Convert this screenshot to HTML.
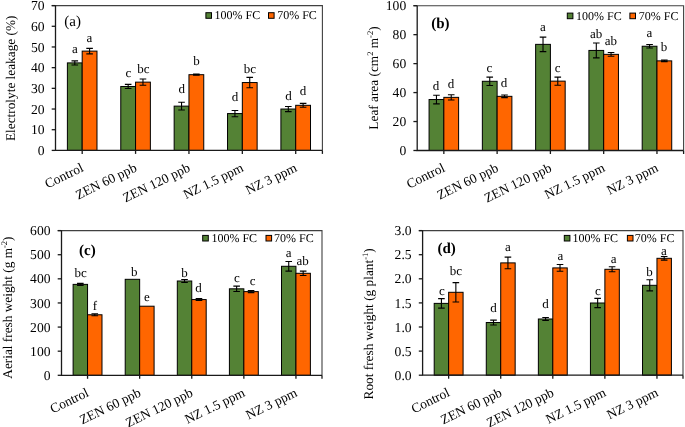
<!DOCTYPE html>
<html><head><meta charset="utf-8"><style>
html,body{margin:0;padding:0;background:#fff;}
svg{display:block;will-change:transform;}
.t,.leg{text-rendering:geometricPrecision;}
.t{font-family:"Liberation Serif",serif;font-size:13px;fill:#000;}
.leg{font-family:"Liberation Serif",serif;font-size:12px;fill:#000;}
</style></head><body>
<svg width="685" height="427" viewBox="0 0 685 427">

<rect x="67.39" y="62.90" width="14.80" height="87.50" fill="#548235" stroke="#000" stroke-width="1"/>
<rect x="82.19" y="51.11" width="14.80" height="99.29" fill="#FF6600" stroke="#000" stroke-width="1"/>
<path d="M74.79 60.83V64.97M71.49 60.83h6.6M71.49 64.97h6.6" stroke="#000" stroke-width="1.1" fill="none"/>
<path d="M89.59 48.36V53.86M86.29 48.36h6.6M86.29 53.86h6.6" stroke="#000" stroke-width="1.1" fill="none"/>
<rect x="120.77" y="86.48" width="14.80" height="63.92" fill="#548235" stroke="#000" stroke-width="1"/>
<rect x="135.57" y="82.14" width="14.80" height="68.26" fill="#FF6600" stroke="#000" stroke-width="1"/>
<path d="M128.17 84.41V88.55M124.87 84.41h6.6M124.87 88.55h6.6" stroke="#000" stroke-width="1.1" fill="none"/>
<path d="M142.97 79.03V85.24M139.67 79.03h6.6M139.67 85.24h6.6" stroke="#000" stroke-width="1.1" fill="none"/>
<rect x="174.15" y="106.13" width="14.80" height="44.27" fill="#548235" stroke="#000" stroke-width="1"/>
<rect x="188.95" y="74.69" width="14.80" height="75.71" fill="#FF6600" stroke="#000" stroke-width="1"/>
<path d="M181.55 102.20V110.06M178.25 102.20h6.6M178.25 110.06h6.6" stroke="#000" stroke-width="1.1" fill="none"/>
<path d="M196.35 74.17V75.21M193.05 74.17h6.6M193.05 75.21h6.6" stroke="#000" stroke-width="1.1" fill="none"/>
<rect x="227.53" y="113.58" width="14.80" height="36.82" fill="#548235" stroke="#000" stroke-width="1"/>
<rect x="242.33" y="82.55" width="14.80" height="67.85" fill="#FF6600" stroke="#000" stroke-width="1"/>
<path d="M234.93 110.48V116.68M231.63 110.48h6.6M231.63 116.68h6.6" stroke="#000" stroke-width="1.1" fill="none"/>
<path d="M249.73 77.38V87.72M246.43 77.38h6.6M246.43 87.72h6.6" stroke="#000" stroke-width="1.1" fill="none"/>
<rect x="280.91" y="109.03" width="14.80" height="41.37" fill="#548235" stroke="#000" stroke-width="1"/>
<rect x="295.71" y="105.31" width="14.80" height="45.09" fill="#FF6600" stroke="#000" stroke-width="1"/>
<path d="M288.31 106.44V111.61M285.01 106.44h6.6M285.01 111.61h6.6" stroke="#000" stroke-width="1.1" fill="none"/>
<path d="M303.11 103.34V107.27M299.81 103.34h6.6M299.81 107.27h6.6" stroke="#000" stroke-width="1.1" fill="none"/>
<path d="M51.70 5.60H322.40V150.40" stroke="#404040" stroke-width="1.1" fill="none"/>
<path d="M55.50 5.60V150.40H322.40" stroke="#1a1a1a" stroke-width="1.3" fill="none"/>
<path d="M51.70 150.40H55.50" stroke="#1a1a1a" stroke-width="1.3"/>
<text x="44.50" y="155.00" text-anchor="end" class="t" style="font-size:13.6px">0</text>
<path d="M51.70 129.71H55.50" stroke="#1a1a1a" stroke-width="1.3"/>
<text x="44.50" y="134.31" text-anchor="end" class="t" style="font-size:13.6px">10</text>
<path d="M51.70 109.03H55.50" stroke="#1a1a1a" stroke-width="1.3"/>
<text x="44.50" y="113.63" text-anchor="end" class="t" style="font-size:13.6px">20</text>
<path d="M51.70 88.34H55.50" stroke="#1a1a1a" stroke-width="1.3"/>
<text x="44.50" y="92.94" text-anchor="end" class="t" style="font-size:13.6px">30</text>
<path d="M51.70 67.66H55.50" stroke="#1a1a1a" stroke-width="1.3"/>
<text x="44.50" y="72.26" text-anchor="end" class="t" style="font-size:13.6px">40</text>
<path d="M51.70 46.97H55.50" stroke="#1a1a1a" stroke-width="1.3"/>
<text x="44.50" y="51.57" text-anchor="end" class="t" style="font-size:13.6px">50</text>
<path d="M51.70 26.29H55.50" stroke="#1a1a1a" stroke-width="1.3"/>
<text x="44.50" y="30.89" text-anchor="end" class="t" style="font-size:13.6px">60</text>
<path d="M51.70 5.60H55.50" stroke="#1a1a1a" stroke-width="1.3"/>
<text x="44.50" y="10.20" text-anchor="end" class="t" style="font-size:13.6px">70</text>
<path d="M322.40 150.40V153.90" stroke="#1a1a1a" stroke-width="1.3"/>
<path d="M82.19 150.40V153.90" stroke="#1a1a1a" stroke-width="1.3"/>
<text x="82.39" y="171.10" text-anchor="end" class="t" style="font-size:13.4px" transform="rotate(-26 82.39 166.80)">Control</text>
<path d="M135.57 150.40V153.90" stroke="#1a1a1a" stroke-width="1.3"/>
<text x="135.77" y="171.10" text-anchor="end" class="t" style="font-size:13.4px" transform="rotate(-26 135.77 166.80)">ZEN 60 ppb</text>
<path d="M188.95 150.40V153.90" stroke="#1a1a1a" stroke-width="1.3"/>
<text x="189.15" y="171.10" text-anchor="end" class="t" style="font-size:13.4px" transform="rotate(-26 189.15 166.80)">ZEN 120 ppb</text>
<path d="M242.33 150.40V153.90" stroke="#1a1a1a" stroke-width="1.3"/>
<text x="242.53" y="171.10" text-anchor="end" class="t" style="font-size:13.4px" transform="rotate(-26 242.53 166.80)">NZ 1.5 ppm</text>
<path d="M295.71 150.40V153.90" stroke="#1a1a1a" stroke-width="1.3"/>
<text x="295.91" y="171.10" text-anchor="end" class="t" style="font-size:13.4px" transform="rotate(-26 295.91 166.80)">NZ 3 ppm</text>
<text x="74.90" y="53.30" text-anchor="middle" class="t">a</text>
<text x="128.30" y="76.80" text-anchor="middle" class="t">c</text>
<text x="181.80" y="93.30" text-anchor="middle" class="t">d</text>
<text x="235.00" y="101.30" text-anchor="middle" class="t">d</text>
<text x="288.60" y="99.60" text-anchor="middle" class="t">d</text>
<text x="89.50" y="41.60" text-anchor="middle" class="t">a</text>
<text x="143.30" y="73.20" text-anchor="middle" class="t">bc</text>
<text x="196.40" y="65.00" text-anchor="middle" class="t">b</text>
<text x="249.90" y="72.70" text-anchor="middle" class="t">bc</text>
<text x="302.90" y="95.10" text-anchor="middle" class="t">d</text>
<text x="15.40" y="78.30" text-anchor="middle" class="t" style="font-size:13.3px" transform="rotate(-90 15.40 78.30)">Electrolyte leakage (%)</text>
<text x="64.30" y="26.00" class="t" style="font-size:15px">(a)</text>
<rect x="205.90" y="12.70" width="5.60" height="5.60" fill="#548235" stroke="#000" stroke-width="1"/>
<rect x="268.50" y="12.70" width="5.60" height="5.60" fill="#FF6600" stroke="#000" stroke-width="1"/>
<text x="214.60" y="19.20" class="leg">100% FC</text>
<text x="277.20" y="19.20" class="leg">70% FC</text>
<rect x="429.07" y="99.53" width="14.77" height="50.97" fill="#548235" stroke="#000" stroke-width="1"/>
<rect x="443.84" y="97.36" width="14.77" height="53.14" fill="#FF6600" stroke="#000" stroke-width="1"/>
<path d="M436.46 95.19V103.87M433.16 95.19h6.6M433.16 103.87h6.6" stroke="#000" stroke-width="1.1" fill="none"/>
<path d="M451.22 94.68V100.04M447.92 94.68h6.6M447.92 100.04h6.6" stroke="#000" stroke-width="1.1" fill="none"/>
<rect x="482.35" y="81.29" width="14.77" height="69.21" fill="#548235" stroke="#000" stroke-width="1"/>
<rect x="497.12" y="96.34" width="14.77" height="54.16" fill="#FF6600" stroke="#000" stroke-width="1"/>
<path d="M489.74 77.09V85.48M486.44 77.09h6.6M486.44 85.48h6.6" stroke="#000" stroke-width="1.1" fill="none"/>
<path d="M504.50 95.04V97.65M501.20 95.04h6.6M501.20 97.65h6.6" stroke="#000" stroke-width="1.1" fill="none"/>
<rect x="535.63" y="44.36" width="14.77" height="106.14" fill="#548235" stroke="#000" stroke-width="1"/>
<rect x="550.40" y="81.14" width="14.77" height="69.36" fill="#FF6600" stroke="#000" stroke-width="1"/>
<path d="M543.02 37.12V51.60M539.72 37.12h6.6M539.72 51.60h6.6" stroke="#000" stroke-width="1.1" fill="none"/>
<path d="M557.78 77.09V85.20M554.48 77.09h6.6M554.48 85.20h6.6" stroke="#000" stroke-width="1.1" fill="none"/>
<rect x="588.91" y="50.44" width="14.77" height="100.06" fill="#548235" stroke="#000" stroke-width="1"/>
<rect x="603.68" y="54.35" width="14.77" height="96.15" fill="#FF6600" stroke="#000" stroke-width="1"/>
<path d="M596.30 43.06V57.83M593.00 43.06h6.6M593.00 57.83h6.6" stroke="#000" stroke-width="1.1" fill="none"/>
<path d="M611.06 52.47V56.24M607.76 52.47h6.6M607.76 56.24h6.6" stroke="#000" stroke-width="1.1" fill="none"/>
<rect x="642.19" y="46.24" width="14.77" height="104.26" fill="#548235" stroke="#000" stroke-width="1"/>
<rect x="656.96" y="60.87" width="14.77" height="89.63" fill="#FF6600" stroke="#000" stroke-width="1"/>
<path d="M649.58 44.51V47.98M646.28 44.51h6.6M646.28 47.98h6.6" stroke="#000" stroke-width="1.1" fill="none"/>
<path d="M664.34 60.14V61.59M661.04 60.14h6.6M661.04 61.59h6.6" stroke="#000" stroke-width="1.1" fill="none"/>
<path d="M413.40 5.70H683.60V150.50" stroke="#404040" stroke-width="1.1" fill="none"/>
<path d="M417.20 5.70V150.50H683.60" stroke="#1a1a1a" stroke-width="1.3" fill="none"/>
<path d="M413.40 150.50H417.20" stroke="#1a1a1a" stroke-width="1.3"/>
<text x="406.20" y="155.10" text-anchor="end" class="t" style="font-size:13.6px">0</text>
<path d="M413.40 121.54H417.20" stroke="#1a1a1a" stroke-width="1.3"/>
<text x="406.20" y="126.14" text-anchor="end" class="t" style="font-size:13.6px">20</text>
<path d="M413.40 92.58H417.20" stroke="#1a1a1a" stroke-width="1.3"/>
<text x="406.20" y="97.18" text-anchor="end" class="t" style="font-size:13.6px">40</text>
<path d="M413.40 63.62H417.20" stroke="#1a1a1a" stroke-width="1.3"/>
<text x="406.20" y="68.22" text-anchor="end" class="t" style="font-size:13.6px">60</text>
<path d="M413.40 34.66H417.20" stroke="#1a1a1a" stroke-width="1.3"/>
<text x="406.20" y="39.26" text-anchor="end" class="t" style="font-size:13.6px">80</text>
<path d="M413.40 5.70H417.20" stroke="#1a1a1a" stroke-width="1.3"/>
<text x="406.20" y="10.30" text-anchor="end" class="t" style="font-size:13.6px">100</text>
<path d="M683.60 150.50V154.00" stroke="#1a1a1a" stroke-width="1.3"/>
<path d="M443.84 150.50V154.00" stroke="#1a1a1a" stroke-width="1.3"/>
<text x="444.04" y="171.20" text-anchor="end" class="t" style="font-size:13.4px" transform="rotate(-26 444.04 166.90)">Control</text>
<path d="M497.12 150.50V154.00" stroke="#1a1a1a" stroke-width="1.3"/>
<text x="497.32" y="171.20" text-anchor="end" class="t" style="font-size:13.4px" transform="rotate(-26 497.32 166.90)">ZEN 60 ppb</text>
<path d="M550.40 150.50V154.00" stroke="#1a1a1a" stroke-width="1.3"/>
<text x="550.60" y="171.20" text-anchor="end" class="t" style="font-size:13.4px" transform="rotate(-26 550.60 166.90)">ZEN 120 ppb</text>
<path d="M603.68 150.50V154.00" stroke="#1a1a1a" stroke-width="1.3"/>
<text x="603.88" y="171.20" text-anchor="end" class="t" style="font-size:13.4px" transform="rotate(-26 603.88 166.90)">NZ 1.5 ppm</text>
<path d="M656.96 150.50V154.00" stroke="#1a1a1a" stroke-width="1.3"/>
<text x="657.16" y="171.20" text-anchor="end" class="t" style="font-size:13.4px" transform="rotate(-26 657.16 166.90)">NZ 3 ppm</text>
<text x="435.90" y="90.00" text-anchor="middle" class="t">d</text>
<text x="489.50" y="71.80" text-anchor="middle" class="t">c</text>
<text x="542.80" y="31.00" text-anchor="middle" class="t">a</text>
<text x="596.20" y="38.40" text-anchor="middle" class="t">ab</text>
<text x="649.40" y="36.50" text-anchor="middle" class="t">a</text>
<text x="450.90" y="87.50" text-anchor="middle" class="t">d</text>
<text x="504.10" y="86.50" text-anchor="middle" class="t">d</text>
<text x="557.60" y="71.70" text-anchor="middle" class="t">c</text>
<text x="610.90" y="44.80" text-anchor="middle" class="t">ab</text>
<text x="664.00" y="50.80" text-anchor="middle" class="t">b</text>
<text x="378.00" y="78.00" text-anchor="middle" class="t" style="font-size:13.3px" transform="rotate(-90 378.00 78.00)">Leaf area (cm<tspan baseline-shift='super' font-size='8.5'>2</tspan> m<tspan baseline-shift='super' font-size='8.5'>-2</tspan>)</text>
<text x="431.20" y="28.40" class="t" font-weight="bold" style="font-size:15px">(b)</text>
<rect x="567.30" y="13.10" width="5.60" height="5.60" fill="#548235" stroke="#000" stroke-width="1"/>
<rect x="629.90" y="13.10" width="5.60" height="5.60" fill="#FF6600" stroke="#000" stroke-width="1"/>
<text x="576.00" y="19.60" class="leg">100% FC</text>
<text x="638.80" y="19.60" class="leg">70% FC</text>
<rect x="73.11" y="284.38" width="14.44" height="90.92" fill="#548235" stroke="#000" stroke-width="1"/>
<rect x="87.55" y="314.77" width="14.44" height="60.53" fill="#FF6600" stroke="#000" stroke-width="1"/>
<path d="M80.33 283.42V285.34M77.03 283.42h6.6M77.03 285.34h6.6" stroke="#000" stroke-width="1.1" fill="none"/>
<path d="M94.77 313.80V315.73M91.47 313.80h6.6M91.47 315.73h6.6" stroke="#000" stroke-width="1.1" fill="none"/>
<rect x="125.21" y="279.32" width="14.44" height="95.98" fill="#548235" stroke="#000" stroke-width="1"/>
<rect x="139.65" y="306.21" width="14.44" height="69.09" fill="#FF6600" stroke="#000" stroke-width="1"/>
<rect x="177.31" y="281.00" width="14.44" height="94.30" fill="#548235" stroke="#000" stroke-width="1"/>
<rect x="191.75" y="299.57" width="14.44" height="75.73" fill="#FF6600" stroke="#000" stroke-width="1"/>
<path d="M184.53 279.56V282.45M181.23 279.56h6.6M181.23 282.45h6.6" stroke="#000" stroke-width="1.1" fill="none"/>
<path d="M198.97 298.61V300.54M195.67 298.61h6.6M195.67 300.54h6.6" stroke="#000" stroke-width="1.1" fill="none"/>
<rect x="229.41" y="288.82" width="14.44" height="86.48" fill="#548235" stroke="#000" stroke-width="1"/>
<rect x="243.85" y="291.62" width="14.44" height="83.68" fill="#FF6600" stroke="#000" stroke-width="1"/>
<path d="M236.63 286.16V291.47M233.33 286.16h6.6M233.33 291.47h6.6" stroke="#000" stroke-width="1.1" fill="none"/>
<path d="M251.07 290.65V292.58M247.77 290.65h6.6M247.77 292.58h6.6" stroke="#000" stroke-width="1.1" fill="none"/>
<rect x="281.51" y="266.29" width="14.44" height="109.01" fill="#548235" stroke="#000" stroke-width="1"/>
<rect x="295.95" y="273.29" width="14.44" height="102.01" fill="#FF6600" stroke="#000" stroke-width="1"/>
<path d="M288.73 261.47V271.12M285.43 261.47h6.6M285.43 271.12h6.6" stroke="#000" stroke-width="1.1" fill="none"/>
<path d="M303.17 271.12V275.46M299.87 271.12h6.6M299.87 275.46h6.6" stroke="#000" stroke-width="1.1" fill="none"/>
<path d="M57.70 230.60H322.00V375.30" stroke="#404040" stroke-width="1.1" fill="none"/>
<path d="M61.50 230.60V375.30H322.00" stroke="#1a1a1a" stroke-width="1.3" fill="none"/>
<path d="M57.70 375.30H61.50" stroke="#1a1a1a" stroke-width="1.3"/>
<text x="50.50" y="379.90" text-anchor="end" class="t" style="font-size:13.6px">0</text>
<path d="M57.70 351.18H61.50" stroke="#1a1a1a" stroke-width="1.3"/>
<text x="50.50" y="355.78" text-anchor="end" class="t" style="font-size:13.6px">100</text>
<path d="M57.70 327.07H61.50" stroke="#1a1a1a" stroke-width="1.3"/>
<text x="50.50" y="331.67" text-anchor="end" class="t" style="font-size:13.6px">200</text>
<path d="M57.70 302.95H61.50" stroke="#1a1a1a" stroke-width="1.3"/>
<text x="50.50" y="307.55" text-anchor="end" class="t" style="font-size:13.6px">300</text>
<path d="M57.70 278.83H61.50" stroke="#1a1a1a" stroke-width="1.3"/>
<text x="50.50" y="283.43" text-anchor="end" class="t" style="font-size:13.6px">400</text>
<path d="M57.70 254.72H61.50" stroke="#1a1a1a" stroke-width="1.3"/>
<text x="50.50" y="259.32" text-anchor="end" class="t" style="font-size:13.6px">500</text>
<path d="M57.70 230.60H61.50" stroke="#1a1a1a" stroke-width="1.3"/>
<text x="50.50" y="235.20" text-anchor="end" class="t" style="font-size:13.6px">600</text>
<path d="M322.00 375.30V378.80" stroke="#1a1a1a" stroke-width="1.3"/>
<path d="M87.55 375.30V378.80" stroke="#1a1a1a" stroke-width="1.3"/>
<text x="87.75" y="396.00" text-anchor="end" class="t" style="font-size:13.4px" transform="rotate(-26 87.75 391.70)">Control</text>
<path d="M139.65 375.30V378.80" stroke="#1a1a1a" stroke-width="1.3"/>
<text x="139.85" y="396.00" text-anchor="end" class="t" style="font-size:13.4px" transform="rotate(-26 139.85 391.70)">ZEN 60 ppb</text>
<path d="M191.75 375.30V378.80" stroke="#1a1a1a" stroke-width="1.3"/>
<text x="191.95" y="396.00" text-anchor="end" class="t" style="font-size:13.4px" transform="rotate(-26 191.95 391.70)">ZEN 120 ppb</text>
<path d="M243.85 375.30V378.80" stroke="#1a1a1a" stroke-width="1.3"/>
<text x="244.05" y="396.00" text-anchor="end" class="t" style="font-size:13.4px" transform="rotate(-26 244.05 391.70)">NZ 1.5 ppm</text>
<path d="M295.95 375.30V378.80" stroke="#1a1a1a" stroke-width="1.3"/>
<text x="296.15" y="396.00" text-anchor="end" class="t" style="font-size:13.4px" transform="rotate(-26 296.15 391.70)">NZ 3 ppm</text>
<text x="80.70" y="276.80" text-anchor="middle" class="t">bc</text>
<text x="134.20" y="276.10" text-anchor="middle" class="t">b</text>
<text x="184.50" y="276.80" text-anchor="middle" class="t">b</text>
<text x="236.90" y="281.50" text-anchor="middle" class="t">c</text>
<text x="288.70" y="256.60" text-anchor="middle" class="t">a</text>
<text x="94.80" y="309.90" text-anchor="middle" class="t">f</text>
<text x="147.00" y="301.00" text-anchor="middle" class="t">e</text>
<text x="198.50" y="292.30" text-anchor="middle" class="t">d</text>
<text x="252.60" y="285.30" text-anchor="middle" class="t">c</text>
<text x="302.60" y="265.40" text-anchor="middle" class="t">ab</text>
<text x="11.80" y="307.60" text-anchor="middle" class="t" style="font-size:13.3px" transform="rotate(-90 11.80 307.60)">Aerial fresh weight (g m<tspan baseline-shift='super' font-size='8.5'>-2</tspan>)</text>
<text x="79.10" y="255.20" class="t" font-weight="bold" style="font-size:15px">(c)</text>
<rect x="202.70" y="235.40" width="5.60" height="5.60" fill="#548235" stroke="#000" stroke-width="1"/>
<rect x="266.00" y="235.40" width="5.60" height="5.60" fill="#FF6600" stroke="#000" stroke-width="1"/>
<text x="211.40" y="241.90" class="leg">100% FC</text>
<text x="274.10" y="241.90" class="leg">70% FC</text>
<rect x="434.20" y="303.38" width="14.44" height="71.82" fill="#548235" stroke="#000" stroke-width="1"/>
<rect x="448.64" y="292.30" width="14.44" height="82.90" fill="#FF6600" stroke="#000" stroke-width="1"/>
<path d="M441.42 298.66V308.11M438.12 298.66h6.6M438.12 308.11h6.6" stroke="#000" stroke-width="1.1" fill="none"/>
<path d="M455.86 282.66V301.94M452.56 282.66h6.6M452.56 301.94h6.6" stroke="#000" stroke-width="1.1" fill="none"/>
<rect x="486.28" y="322.52" width="14.44" height="52.68" fill="#548235" stroke="#000" stroke-width="1"/>
<rect x="500.72" y="262.89" width="14.44" height="112.31" fill="#FF6600" stroke="#000" stroke-width="1"/>
<path d="M493.50 320.11V324.93M490.20 320.11h6.6M490.20 324.93h6.6" stroke="#000" stroke-width="1.1" fill="none"/>
<path d="M507.94 257.11V268.68M504.64 257.11h6.6M504.64 268.68h6.6" stroke="#000" stroke-width="1.1" fill="none"/>
<rect x="538.36" y="319.00" width="14.44" height="56.20" fill="#548235" stroke="#000" stroke-width="1"/>
<rect x="552.80" y="267.91" width="14.44" height="107.29" fill="#FF6600" stroke="#000" stroke-width="1"/>
<path d="M545.58 317.55V320.44M542.28 317.55h6.6M542.28 320.44h6.6" stroke="#000" stroke-width="1.1" fill="none"/>
<path d="M560.02 264.53V271.28M556.72 264.53h6.6M556.72 271.28h6.6" stroke="#000" stroke-width="1.1" fill="none"/>
<rect x="590.44" y="303.00" width="14.44" height="72.20" fill="#548235" stroke="#000" stroke-width="1"/>
<rect x="604.88" y="269.30" width="14.44" height="105.90" fill="#FF6600" stroke="#000" stroke-width="1"/>
<path d="M597.66 298.37V307.62M594.36 298.37h6.6M594.36 307.62h6.6" stroke="#000" stroke-width="1.1" fill="none"/>
<path d="M612.10 266.80V271.81M608.80 266.80h6.6M608.80 271.81h6.6" stroke="#000" stroke-width="1.1" fill="none"/>
<rect x="642.52" y="285.31" width="14.44" height="89.89" fill="#548235" stroke="#000" stroke-width="1"/>
<rect x="656.96" y="258.31" width="14.44" height="116.88" fill="#FF6600" stroke="#000" stroke-width="1"/>
<path d="M649.74 279.72V290.90M646.44 279.72h6.6M646.44 290.90h6.6" stroke="#000" stroke-width="1.1" fill="none"/>
<path d="M664.18 256.53V260.10M660.88 256.53h6.6M660.88 260.10h6.6" stroke="#000" stroke-width="1.1" fill="none"/>
<path d="M418.80 230.60H683.00V375.20" stroke="#404040" stroke-width="1.1" fill="none"/>
<path d="M422.60 230.60V375.20H683.00" stroke="#1a1a1a" stroke-width="1.3" fill="none"/>
<path d="M418.80 375.20H422.60" stroke="#1a1a1a" stroke-width="1.3"/>
<text x="411.60" y="379.80" text-anchor="end" class="t" style="font-size:13.6px">0.0</text>
<path d="M418.80 351.10H422.60" stroke="#1a1a1a" stroke-width="1.3"/>
<text x="411.60" y="355.70" text-anchor="end" class="t" style="font-size:13.6px">0.5</text>
<path d="M418.80 327.00H422.60" stroke="#1a1a1a" stroke-width="1.3"/>
<text x="411.60" y="331.60" text-anchor="end" class="t" style="font-size:13.6px">1.0</text>
<path d="M418.80 302.90H422.60" stroke="#1a1a1a" stroke-width="1.3"/>
<text x="411.60" y="307.50" text-anchor="end" class="t" style="font-size:13.6px">1.5</text>
<path d="M418.80 278.80H422.60" stroke="#1a1a1a" stroke-width="1.3"/>
<text x="411.60" y="283.40" text-anchor="end" class="t" style="font-size:13.6px">2.0</text>
<path d="M418.80 254.70H422.60" stroke="#1a1a1a" stroke-width="1.3"/>
<text x="411.60" y="259.30" text-anchor="end" class="t" style="font-size:13.6px">2.5</text>
<path d="M418.80 230.60H422.60" stroke="#1a1a1a" stroke-width="1.3"/>
<text x="411.60" y="235.20" text-anchor="end" class="t" style="font-size:13.6px">3.0</text>
<path d="M683.00 375.20V378.70" stroke="#1a1a1a" stroke-width="1.3"/>
<path d="M448.64 375.20V378.70" stroke="#1a1a1a" stroke-width="1.3"/>
<text x="448.84" y="395.90" text-anchor="end" class="t" style="font-size:13.4px" transform="rotate(-26 448.84 391.60)">Control</text>
<path d="M500.72 375.20V378.70" stroke="#1a1a1a" stroke-width="1.3"/>
<text x="500.92" y="395.90" text-anchor="end" class="t" style="font-size:13.4px" transform="rotate(-26 500.92 391.60)">ZEN 60 ppb</text>
<path d="M552.80 375.20V378.70" stroke="#1a1a1a" stroke-width="1.3"/>
<text x="553.00" y="395.90" text-anchor="end" class="t" style="font-size:13.4px" transform="rotate(-26 553.00 391.60)">ZEN 120 ppb</text>
<path d="M604.88 375.20V378.70" stroke="#1a1a1a" stroke-width="1.3"/>
<text x="605.08" y="395.90" text-anchor="end" class="t" style="font-size:13.4px" transform="rotate(-26 605.08 391.60)">NZ 1.5 ppm</text>
<path d="M656.96 375.20V378.70" stroke="#1a1a1a" stroke-width="1.3"/>
<text x="657.16" y="395.90" text-anchor="end" class="t" style="font-size:13.4px" transform="rotate(-26 657.16 391.60)">NZ 3 ppm</text>
<text x="441.90" y="294.70" text-anchor="middle" class="t">c</text>
<text x="493.60" y="311.80" text-anchor="middle" class="t">d</text>
<text x="545.40" y="307.60" text-anchor="middle" class="t">d</text>
<text x="598.00" y="295.40" text-anchor="middle" class="t">c</text>
<text x="649.60" y="275.80" text-anchor="middle" class="t">b</text>
<text x="455.90" y="275.10" text-anchor="middle" class="t">bc</text>
<text x="507.90" y="250.80" text-anchor="middle" class="t">a</text>
<text x="560.50" y="259.80" text-anchor="middle" class="t">a</text>
<text x="613.60" y="263.10" text-anchor="middle" class="t">a</text>
<text x="664.00" y="255.30" text-anchor="middle" class="t">a</text>
<text x="372.80" y="323.90" text-anchor="middle" class="t" style="font-size:13.3px" transform="rotate(-90 372.80 323.90)">Root fresh weight (g plant<tspan baseline-shift='super' font-size='8.5'>-1</tspan>)</text>
<text x="437.50" y="253.10" class="t" font-weight="bold" style="font-size:15px">(d)</text>
<rect x="564.30" y="235.40" width="5.60" height="5.60" fill="#548235" stroke="#000" stroke-width="1"/>
<rect x="627.40" y="235.40" width="5.60" height="5.60" fill="#FF6600" stroke="#000" stroke-width="1"/>
<text x="572.40" y="241.90" class="leg">100% FC</text>
<text x="634.80" y="241.90" class="leg">70% FC</text>
</svg>
</body></html>
